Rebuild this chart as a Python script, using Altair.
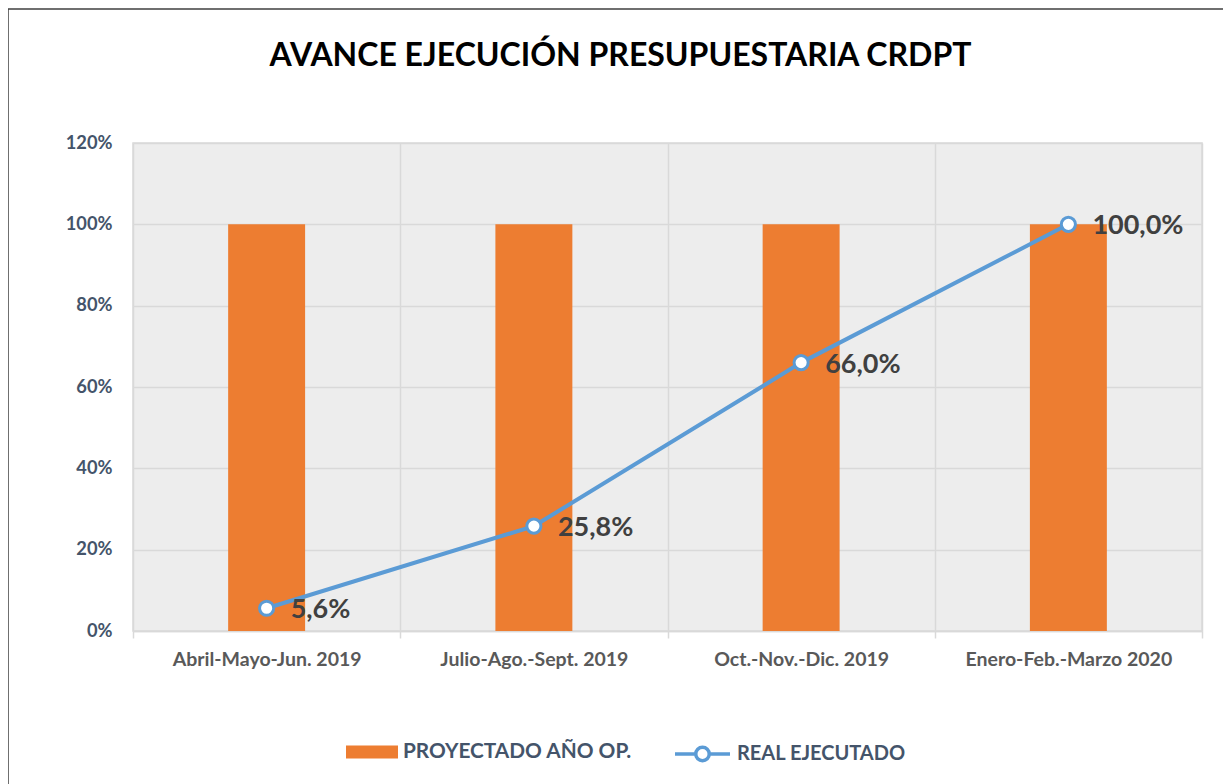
import altair as alt
import pandas as pd

categories = ["Abril-Mayo-Jun. 2019", "Julio-Ago.-Sept. 2019", "Oct.-Nov.-Dic. 2019", "Enero-Feb.-Marzo 2020"]
proyectado = [1.0, 1.0, 1.0, 1.0]
real = [0.056, 0.258, 0.66, 1.0]
real_labels = ["5,6%", "25,8%", "66,0%", "100,0%"]
y_ticks = [0, 0.2, 0.4, 0.6, 0.8, 1.0, 1.2]

BAR_NAME = "PROYECTADO AÑO OP."
LINE_NAME = "REAL EJECUTADO"
TITLE = "AVANCE EJECUCIÓN PRESUPUESTARIA CRDPT"

df = pd.DataFrame({
    "cat": categories,
    "proyectado": proyectado,
    "real": real,
    "label": real_labels,
    "bar_series": [BAR_NAME] * len(categories),
    "line_series": [LINE_NAME] * len(categories),
})

FONT = "Lato"
W, H = 1069, 488

x_enc = alt.X(
    "cat:N",
    sort=categories,
    scale=alt.Scale(paddingInner=0, paddingOuter=0),
    axis=alt.Axis(
        title=None, labelAngle=0, labelFont=FONT, labelFontSize=19.5, labelFontWeight="bold",
        labelColor="#595959", labelPadding=12, labelLimit=400, domainColor="#d9d9d9", domainWidth=1.5,
        tickColor="#d9d9d9", tickSize=7, tickWidth=1.5, tickBand="extent",
        grid=True, gridColor="#d9d9d9", gridWidth=1.5,
    ),
)
y_scale = alt.Scale(domain=[0, 1.2], nice=False)
y_axis = alt.Axis(
    title=None, values=y_ticks, format=".0%", labelFont=FONT, labelFontSize=18.3,
    labelFontWeight="bold", labelColor="#44546a", labelPadding=21, domain=False,
    ticks=False, grid=True, gridColor="#d9d9d9", gridWidth=1.5,
)

base = alt.Chart(df)

bars = base.mark_bar(width=alt.RelativeBandSize(0.288)).encode(
    x=x_enc,
    y=alt.Y("proyectado:Q", scale=y_scale, axis=y_axis),
    fill=alt.Fill(
        "bar_series:N",
        scale=alt.Scale(domain=[BAR_NAME], range=["#ED7D31"]),
        legend=alt.Legend(
            title=None, orient="none", legendX=213, legendY=583,
            symbolType="M-1,-0.25H1V0.25H-1Z", symbolSize=2704, symbolStrokeWidth=0,
            labelFont=FONT, labelFontSize=20.8, labelFontWeight="bold", labelColor="#44546a",
            labelOffset=5, labelLimit=500, padding=0,
        ),
    ),
)

line = base.mark_line(strokeWidth=4).encode(
    x=alt.X("cat:N", sort=categories),
    y=alt.Y("real:Q"),
    stroke=alt.Stroke(
        "line_series:N",
        scale=alt.Scale(domain=[LINE_NAME], range=["#5B9BD5"]),
        legend=alt.Legend(
            title=None, orient="none", legendX=540, legendY=581.5,
            symbolType="M-1,0H-0.245M0.245,0H1M0.245,0A0.245,0.245 0 1 1 -0.245,0A0.245,0.245 0 1 1 0.245,0Z",
            symbolSize=3025, symbolStrokeWidth=3.5, symbolFillColor="white",
            labelFont=FONT, labelFontSize=20, labelFontWeight="bold", labelColor="#44546a",
            labelOffset=5, labelLimit=500, padding=0,
        ),
    ),
)

points = base.mark_point(filled=True, fill="white", stroke="#5B9BD5", strokeWidth=3, size=200, opacity=1).encode(
    x=alt.X("cat:N", sort=categories),
    y=alt.Y("real:Q"),
)

labels = base.mark_text(
    align="left", baseline="middle", dx=24, dy=2, font=FONT, fontSize=27,
    fontWeight="bold", color="#404040",
).encode(
    x=alt.X("cat:N", sort=categories),
    y=alt.Y("real:Q"),
    text="label:N",
)

frame = alt.Chart(pd.DataFrame({"f": [0]})).mark_rect(
    fill=None, stroke="#404040", strokeWidth=1.5
).encode(
    x=alt.value(-125), x2=alt.value(1300), y=alt.value(-134), y2=alt.value(800)
)

chart = alt.layer(frame, bars, line, points, labels).properties(
    width=W,
    height=H,
    autosize="none",
    background="white",
    padding={"left": 125, "top": 135, "right": 21, "bottom": 153},
    title=alt.TitleParams(
        TITLE, font=FONT, fontSize=32, fontWeight="bold",
        color="#000000", anchor="middle", frame="group", dx=-47, offset=0, dy=65,
    ),
).resolve_scale(fill="independent", stroke="independent").configure_view(
    fill="#ededed", stroke="#d9d9d9", strokeWidth=1.5
)

chart.save("out.html", embed_options={"renderer": "svg", "actions": False})
